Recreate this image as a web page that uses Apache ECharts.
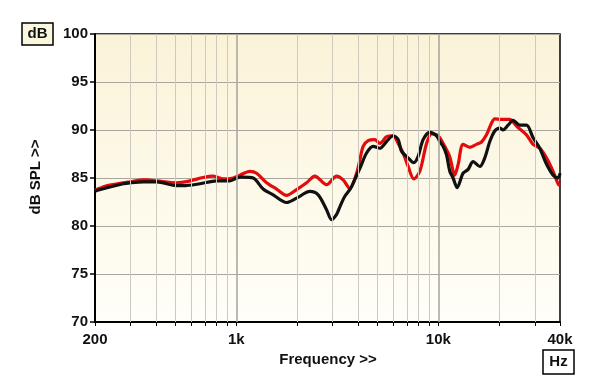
<!DOCTYPE html>
<html><head><meta charset="utf-8">
<script src="https://cdn.jsdelivr.net/npm/echarts@6/dist/echarts.min.js"></script>
<style>html,body{margin:0;padding:0;background:#fff}#c{width:600px;height:389px}</style>
</head><body><div id="c"></div>
<script>
var redFreq = [200,204,228,276,298,347,361,404,507,590,686,769,862,966,1043,1168,1261,1413,1583,1775,1989,2229,2449,2798,3136,3381,3650,3939,4090,4246,4494,4852,5134,5544,5976,6325,6696,7087,7564,8100,8743,9256,9797,10170,10560,10976,11396,12064,12524,13260,14314,15448,16354,17312,18322,19022,20540,22560,24360,27300,29440,31760,34280,36960,39120,40000];
var redDb = [83.7,83.8,84.2,84.5,84.6,84.8,84.8,84.7,84.5,84.7,85.05,85.2,84.9,85.0,85.3,85.7,85.5,84.5,83.85,83.2,83.8,84.5,85.2,84.3,85.2,84.8,83.9,85.5,86.9,88.3,88.9,89.0,88.6,89.3,89.4,88.6,87.6,86.2,84.9,85.7,88.6,89.6,89.5,89.2,88.6,87.95,87.2,85.3,86.4,88.5,88.2,88.5,88.75,89.5,90.7,91.15,91.1,91.1,90.4,89.5,88.5,88.1,87.1,85.7,84.4,84.2];
var blackFreq = [200,204,276,298,347,404,507,547,661,800,930,1043,1082,1213,1359,1523,1775,1989,2314,2543,2798,2962,3136,3256,3447,3650,3720,4090,4414,4758,5134,5544,5976,6325,6574,7087,7564,7944,8410,9078,9797,10170,10560,10976,11396,11832,12384,13260,14040,14862,16042,16980,17974,19022,20140,20900,22140,23440,25300,27300,29440,31760,34280,36960,39120,40000];
var blackDb = [83.6,83.7,84.4,84.5,84.6,84.6,84.2,84.2,84.4,84.7,84.7,85.1,85.1,85.0,83.85,83.25,82.45,82.9,83.6,83.25,81.7,80.65,81.2,82.0,83.1,83.8,84.1,86.0,87.6,88.3,88.1,88.8,89.4,89.0,87.8,87.1,86.6,87.25,89.0,89.75,89.4,88.8,88.3,87.4,85.7,85.0,84.0,85.5,85.9,86.7,86.2,87.1,88.8,89.9,90.2,90.0,90.5,91.0,90.5,90.5,89.2,88.1,86.45,85.3,85.0,85.5];
var xLabelValues = [200,1000,10000,40000];
var xLabelTexts = ['200','1k','10k','40k'];
var minorGrid = [300,400,500,600,700,800,900,2000,3000,4000,5000,6000,7000,8000,9000,20000,30000];
var majorGrid = [1000,10000];
var tickValues = [200,300,400,500,600,700,800,900,1000,2000,3000,4000,5000,6000,7000,8000,9000,10000,20000,30000,40000];

function pairs(xs, ys){ return xs.map(function(x,i){ return [x, ys[i]]; }); }
var chart = echarts.init(document.getElementById('c'), null, {renderer:'canvas'});
var F = 'Liberation Sans, Arial, sans-serif';
var gridLines = minorGrid.map(function(v){ return {xAxis:v, lineStyle:{color:'#cfcac0', width:1, type:'solid'}}; })
  .concat(majorGrid.map(function(v){ return {xAxis:v, lineStyle:{color:'#aaa8a0', width:1.6, type:'solid'}}; }));
chart.setOption({
  animation:false,
  grid:{left:95, right:40, top:34, bottom:67, show:true, borderColor:'#000', borderWidth:1.5,
    backgroundColor:new echarts.graphic.LinearGradient(0,0,0,1,[{offset:0,color:'#fbf3d8'},{offset:1,color:'#fffef8'}])},
  xAxis:{type:'log', logBase:10, min:200, max:40000,
    axisLine:{show:true, lineStyle:{color:'#000', width:2}},
    axisTick:{show:true, inside:false, length:4, customValues:tickValues, lineStyle:{color:'#000', width:1}},
    axisLabel:{customValues:xLabelValues, margin:10, fontFamily:F, fontWeight:'bold', fontSize:15, color:'#111',
      formatter:function(v){ var i = xLabelValues.indexOf(Math.round(v)); return i>=0 ? xLabelTexts[i] : ''; }},
    splitLine:{show:false}, minorTick:{show:false}},
  yAxis:{type:'value', min:70, max:100, interval:5,
    axisLine:{show:true, lineStyle:{color:'#000', width:2}},
    axisTick:{show:true, length:5, lineStyle:{color:'#000', width:1.5}},
    axisLabel:{margin:7, fontFamily:F, fontWeight:'bold', fontSize:15, color:'#111'},
    splitLine:{show:true, lineStyle:{color:'#a9a69e', width:1}}},
  series:[
    {type:'line', data:[], silent:true, markLine:{silent:true, symbol:'none', label:{show:false}, data:gridLines}, z:1},
    {type:'line', data:pairs(redFreq, redDb), smooth:0.3, showSymbol:false, lineStyle:{color:'#e30b0b', width:3.2}, z:3},
    {type:'line', data:pairs(blackFreq, blackDb), smooth:0.3, showSymbol:false, lineStyle:{color:'#111', width:3.2}, z:4}
  ],
  graphic:[
    {type:'rect', shape:{x:22, y:23, width:31, height:22}, style:{fill:'#fbf6de', stroke:'#000', lineWidth:1.5}},
    {type:'text', x:37.5, y:34, style:{text:'dB', fontFamily:F, fontWeight:'bold', fontSize:15, fill:'#111', textAlign:'center', textVerticalAlign:'middle'}},
    {type:'rect', shape:{x:543, y:350, width:31, height:24}, style:{fill:'#fff', stroke:'#000', lineWidth:1.5}},
    {type:'text', x:558.5, y:362, style:{text:'Hz', fontFamily:F, fontWeight:'bold', fontSize:15, fill:'#111', textAlign:'center', textVerticalAlign:'middle'}},
    {type:'text', x:328, y:360, style:{text:'Frequency >>', fontFamily:F, fontWeight:'bold', fontSize:15, fill:'#111', textAlign:'center', textVerticalAlign:'middle'}},
    {type:'text', x:36, y:177, rotation:Math.PI/2, style:{text:'dB SPL >>', fontFamily:F, fontWeight:'bold', fontSize:15, fill:'#111', textAlign:'center', textVerticalAlign:'middle'}}
  ]
});
</script></body></html>
